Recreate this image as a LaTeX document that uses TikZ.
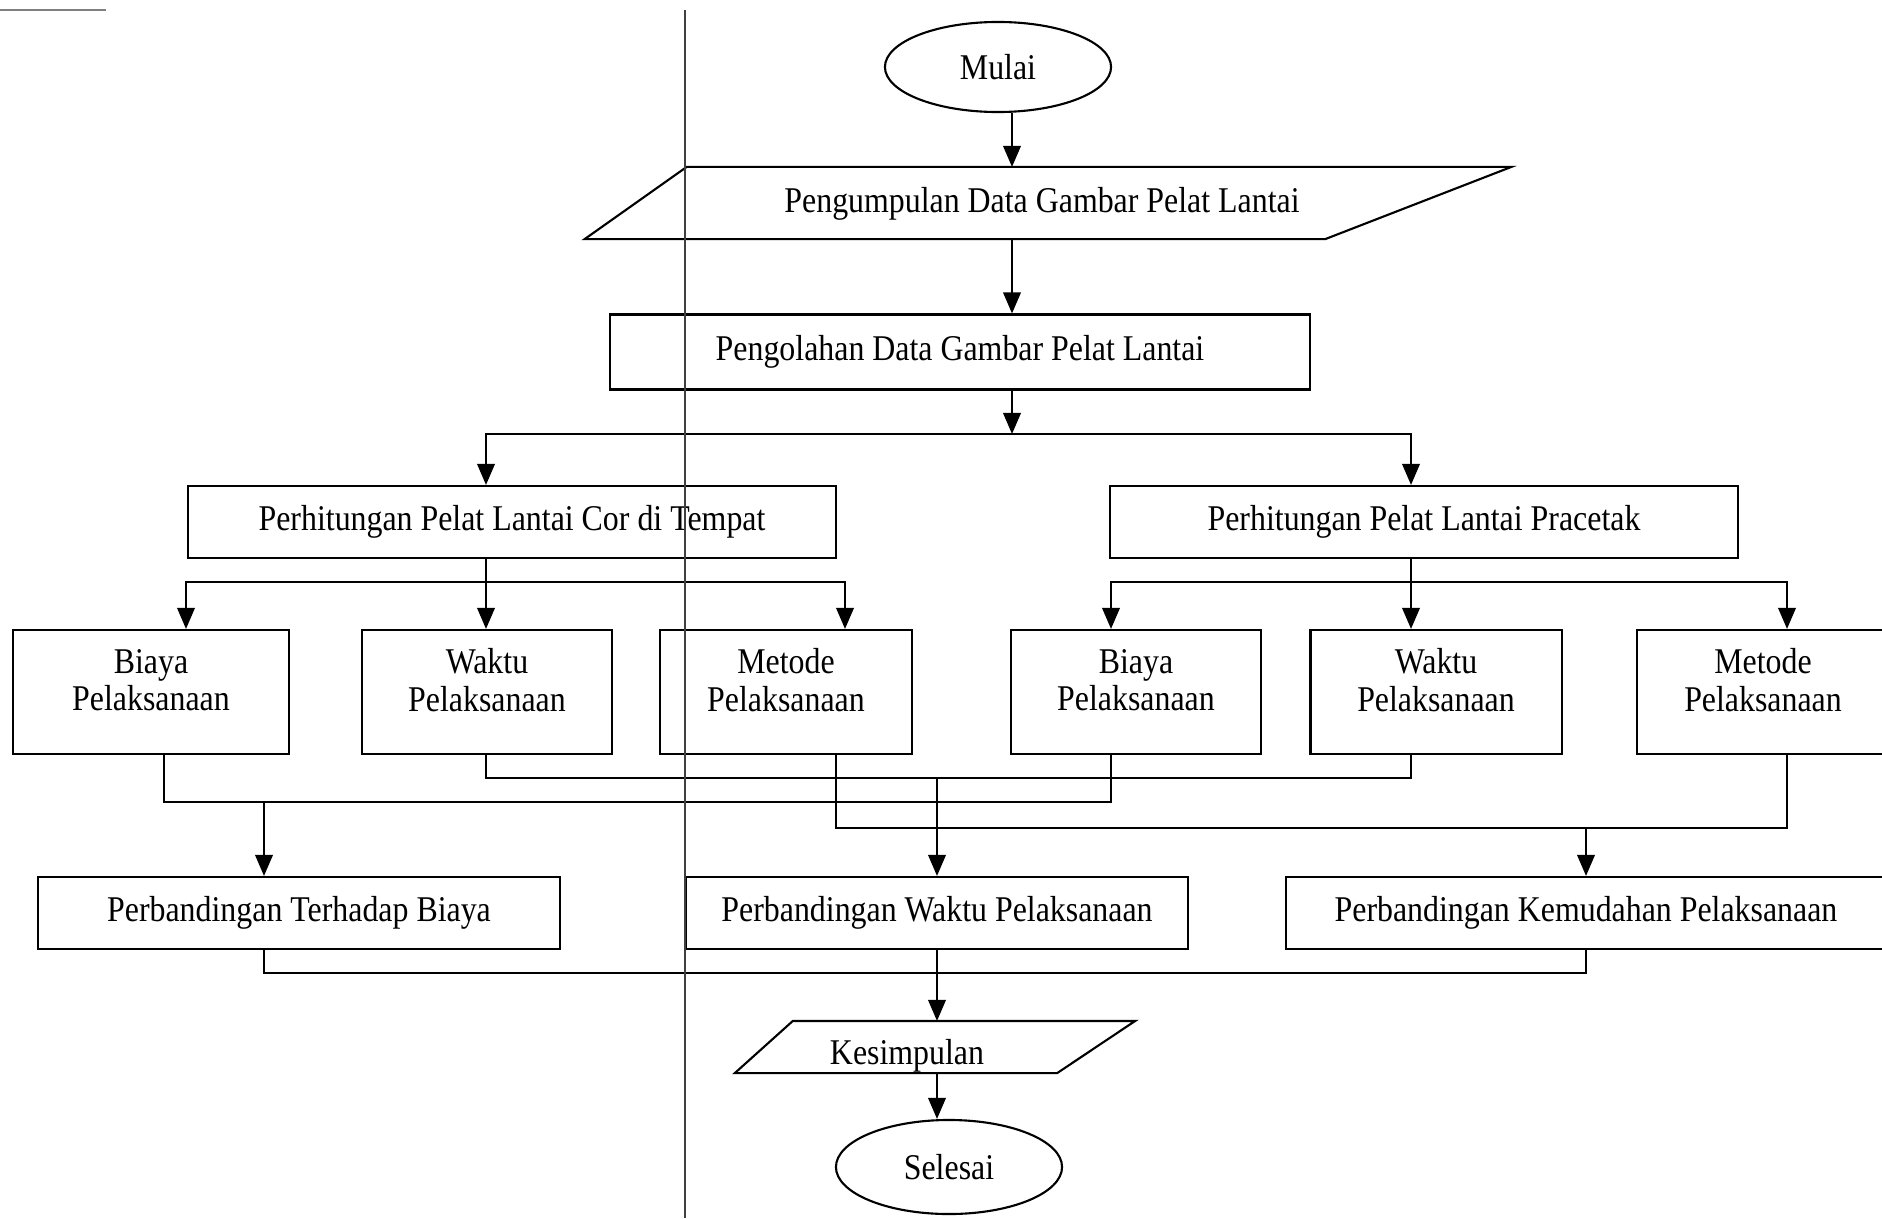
\documentclass[tikz,border=0pt]{standalone}
\usepackage{fontspec}
\setmainfont{Liberation Serif}[FakeStretch=0.88]
\usetikzlibrary{arrows.meta,calc,shapes.geometric}

\begin{document}
\begin{tikzpicture}[
        x=0.01cm, y=-0.01cm,
        line width=0.6pt,
        every node/.style={font=\fontsize{10.3}{11}\selectfont},
        terminal/.style={ellipse, draw, minimum width=2.26cm, minimum height=0.90cm, inner sep=0pt},
        inout/.style={rectangle, inner sep=0pt},
        proses/.style={rectangle, draw, minimum height=0.72cm, inner sep=2pt},
        pilihan/.style={rectangle, draw, minimum width=2.50cm, minimum height=1.24cm},
        isi/.style={align=center, inner sep=0pt, font=\fontsize{10.3}{10.6}\selectfont},
        arr/.style={-{Triangle[length=6pt,width=5pt]}}
    ]
        \useasboundingbox (0,0) rectangle (1882,1218);

        \node[terminal] (mulai) at (998,67) {Mulai};
        \node[inout, minimum width=9.24cm, minimum height=0.70cm] (kumpul) at (1048,203) {};
        \node (tkumpul) at (1042,204) {Pengumpulan Data Gambar Pelat Lantai};
        \draw (kumpul.south west) -- ($(kumpul.north west)+(102,0)$) -- (kumpul.north east)
            -- ($(kumpul.south east)+(-186,0)$) -- cycle;
        \node[proses, minimum width=7.00cm, minimum height=0.75cm] (olah) at (960,352) {Pengolahan Data Gambar Pelat Lantai};

        \node[proses, minimum width=6.48cm] (cor)  at (512,522)  {Perhitungan Pelat Lantai Cor di Tempat};
        \node[proses, minimum width=6.27cm] (prac) at (1424,522) {Perhitungan Pelat Lantai Pracetak};

        \node[pilihan, minimum width=2.76cm] (b1) at (151,692)  {};
        \node[pilihan, minimum width=2.49cm] (w1) at (487,692)  {};
        \node[pilihan, minimum width=2.52cm] (m1) at (786,692)  {};
        \node[pilihan, minimum width=2.49cm] (b2) at (1136,692) {};
        \node[pilihan, minimum width=2.51cm] (w2) at (1436,692) {};
        \node[pilihan, minimum width=2.52cm] (m2) at (1763,692) {};
        \foreach \n/\t in {b1/Biaya, w1/Waktu, m1/Metode, b2/Biaya, w2/Waktu, m2/Metode}
            \node[isi] (t\n) at ($(\n)+(0,-12)$) {\t\\Pelaksanaan};

        \node[proses, minimum width=5.22cm] (pbiaya) at (299,913)  {Perbandingan Terhadap Biaya};
        \node[proses, minimum width=5.01cm] (pwaktu) at (937,913)  {Perbandingan Waktu Pelaksanaan};
        \node[proses, minimum width=6.00cm] (pmudah) at (1586,913) {Perbandingan Kemudahan Pelaksanaan};

        \node[inout, minimum width=3.98cm, minimum height=0.50cm] (simpul) at (935,1047) {};
        \node (tsimpul) at (907,1056) {Kesimpulan};
        \draw (simpul.south west) -- ($(simpul.north west)+(58,0)$) -- (simpul.north east)
            -- ($(simpul.south east)+(-78,0)$) -- cycle;
        \node[terminal, minimum height=0.94cm] (selesai) at (949,1167) {Selesai};

        % titik cabang
        \coordinate (j0) at (1012,434);
        \coordinate (jc) at (486,582);
        \coordinate (jp) at (1411,582);
        \coordinate (jw) at (937,778);
        \coordinate (jb) at (264,802);
        \coordinate (jm) at (1586,828);
        \coordinate (jk) at (937,973);

        \draw[arr] (mulai.south -| j0) -- (kumpul.north -| j0);
        \draw[arr] (kumpul.south -| j0) -- (olah.north -| j0);
        \draw[arr] (olah.south -| j0) -- (j0);
        \draw[arr] (j0) -| (cor.north -| jc);
        \draw[arr] (j0) -| (prac.north -| jp);

        \draw (cor.south -| jc) -- (jc);
        \draw[arr] (jc) -| ($(b1.north)+(35,0)$);
        \draw[arr] (jc) -- (w1.north -| jc);
        \draw[arr] (jc) -| ($(m1.north)+(59,0)$);
        \draw (prac.south -| jp) -- (jp);
        \draw[arr] (jp) -| ($(b2.north)+(-25,0)$);
        \draw[arr] (jp) -- (w2.north -| jp);
        \draw[arr] (jp) -| ($(m2.north)+(24,0)$);

        \draw ($(b1.south)+(13,0)$) |- (jb) -| ($(b2.south)+(-25,0)$);
        \draw[arr] (jb) -- (pbiaya.north -| jb);
        \draw (w1.south -| jc) |- (jw) -| (w2.south -| jp);
        \draw[arr] (jw) -- (pwaktu.north);
        \draw ($(m1.south)+(50,0)$) |- (jm) -| ($(m2.south)+(24,0)$);
        \draw[arr] (jm) -- (pmudah.north);

        \draw (pbiaya.south -| jb) |- (jk) -| (pmudah.south);
        \draw[arr] (pwaktu.south) -- (simpul.north -| pwaktu.south);
        \draw[arr] (simpul.south -| pwaktu.south) -- (selesai.north -| pwaktu.south);

        % garis tepi hasil pindaian
        \draw[line width=0.3pt, black!75] (685,10) -- (685,1218);
        \draw[line width=0.4pt, gray] (0,10) -- (106,10);

    \end{tikzpicture}
\end{document}
